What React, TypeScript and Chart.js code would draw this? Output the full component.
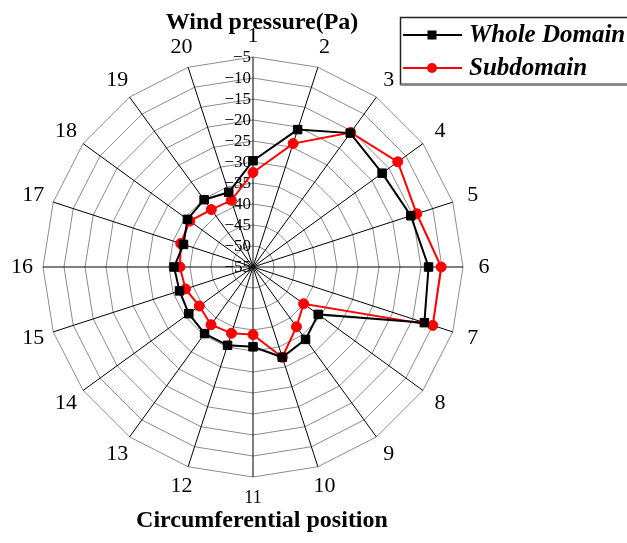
import React, { useEffect, useRef } from "react";
import { Chart, registerables } from "chart.js";

Chart.register(...registerables);

// ---- data ----
const categories = ["1", "2", "3", "4", "5", "6", "7", "8", "9", "10", "11", "12", "13", "14", "15", "16", "17", "18", "19", "20"];
const wholeDomain = [-29.7, -20.6, -15.6, -17.0, -15.5, -13.2, -12.1, -35.8, -33.7, -32.4, -36.0, -35.4, -35.4, -36.1, -36.6, -36.2, -37.6, -35.7, -35.2, -36.3];
const subdomain = [-32.5, -24.1, -15.4, -12.4, -14.0, -10.2, -10.0, -40.1, -37.4, -32.4, -38.9, -38.4, -38.0, -39.2, -38.1, -37.6, -36.9, -36.4, -38.1, -38.3];
const seriesNames = ["Whole Domain", "Subdomain"];
const scaleMin = -55;
const scaleMax = -5;
const scaleStep = 5;
const titleText = "Wind pressure(Pa)";
const axisTitleText = "Circumferential position";

const SERIF = "'Liberation Serif', 'Times New Roman', serif";

const fmt = (v: number) => String(v).replace("-", "\u2212");

const decorations = {
  id: "decorations",
  beforeDatasetsDraw(chart: any) {
    const s = chart.scales.r;
    const ctx = chart.ctx;
    ctx.save();
    ctx.font = `17px ${SERIF}`;
    ctx.fillStyle = "#000";
    ctx.textAlign = "right";
    ctx.textBaseline = "middle";
    s.ticks.forEach((t: any) => {
      const d = s.getDistanceFromCenterForValue(t.value);
      ctx.fillText(fmt(t.value), s.xCenter - 2, s.yCenter - d + 1);
    });
    ctx.restore();
  },
  afterDraw(chart: any) {
    const s = chart.scales.r;
    const ctx = chart.ctx;
    ctx.save();
    // point labels
    ctx.fillStyle = "#000";
    ctx.textAlign = "center";
    ctx.textBaseline = "middle";
    const labels: string[] = chart.data.labels;
    labels.forEach((lab, i) => {
      const p = s.getPointPosition(i, s.drawingArea + 21);
      ctx.font = `${i === 10 ? 18 : 22}px ${SERIF}`;
      ctx.fillText(lab, p.x, p.y);
    });
    // titles
    ctx.font = `bold 24px ${SERIF}`;
    ctx.textBaseline = "alphabetic";
    ctx.fillText(titleText, s.xCenter + 9, 29);
    ctx.fillText(axisTitleText, s.xCenter + 9, 527);

    // legend box
    const lx = 400.5, ly = 17.5, lw = 260, lh = 67;
    ctx.lineWidth = 1.5;
    ctx.strokeStyle = "#222";
    ctx.strokeRect(lx, ly, lw, lh);
    ctx.beginPath();
    ctx.strokeStyle = "#808080";
    ctx.lineWidth = 2.5;
    ctx.moveTo(lx, ly + lh);
    ctx.lineTo(lx + lw, ly + lh);
    ctx.stroke();

    const rows = [35, 68];
    chart.data.datasets.forEach((ds: any, k: number) => {
      const y = rows[k];
      ctx.beginPath();
      ctx.strokeStyle = ds.borderColor;
      ctx.lineWidth = 2;
      ctx.moveTo(403, y);
      ctx.lineTo(462, y);
      ctx.stroke();
      ctx.fillStyle = ds.pointBackgroundColor;
      if (ds.pointStyle === "rect") {
        ctx.fillRect(432 - 4.5, y - 4.5, 9, 9);
      } else {
        ctx.beginPath();
        ctx.arc(432, y, 5, 0, Math.PI * 2);
        ctx.fill();
      }
      ctx.fillStyle = "#000";
      ctx.font = `italic bold 25px ${SERIF}`;
      ctx.textAlign = "left";
      ctx.textBaseline = "middle";
      ctx.fillText(ds.label, 469, y + 1);
    });
    ctx.restore();
  },
};

export default function App() {
  const ref = useRef<HTMLCanvasElement | null>(null);
  useEffect(() => {
    if (!ref.current) return;
    const chart = new Chart(ref.current, {
      type: "radar",
      data: {
        labels: categories,
        datasets: [
          {
            label: seriesNames[0],
            data: wholeDomain,
            borderColor: "#000",
            backgroundColor: "#000",
            pointBackgroundColor: "#000",
            pointBorderColor: "#000",
            pointStyle: "rect",
            pointRadius: 6,
            pointBorderWidth: 1,
            borderWidth: 2,
            fill: false,
            tension: 0,
          } as any,
          {
            label: seriesNames[1],
            data: subdomain,
            borderColor: "#ff0000",
            backgroundColor: "#ff0000",
            pointBackgroundColor: "#ff0000",
            pointBorderColor: "#ff0000",
            pointStyle: "circle",
            pointRadius: 5,
            pointBorderWidth: 1,
            borderWidth: 2,
            fill: false,
            tension: 0,
          } as any,
        ],
      },
      options: {
        responsive: false,
        animation: false,
        layout: { padding: { left: 43, right: 164, top: 57, bottom: 66 } },
        plugins: {
          legend: { display: false },
          title: { display: false },
          tooltip: { enabled: false },
        },
        scales: {
          r: {
            min: scaleMin,
            max: scaleMax,
            ticks: { display: false, stepSize: scaleStep },
            pointLabels: { display: false },
            grid: { color: "#8c8c8c", lineWidth: 1 },
            angleLines: { color: "#000", lineWidth: 1 },
          },
        },
      },
      plugins: [decorations],
    });
    return () => chart.destroy();
  }, []);
  return (
    <div style={{ position: "fixed", left: 0, top: 0, width: 627, height: 543, background: "#fff" }}>
      <canvas ref={ref} width={627} height={543} style={{ width: 627, height: 543 }} />
    </div>
  );
}
